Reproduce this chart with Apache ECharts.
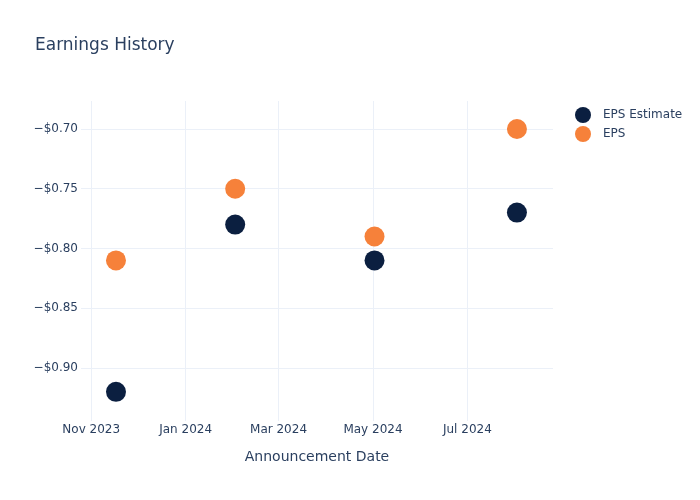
<!DOCTYPE html>
<html>
<head>
<meta charset="utf-8">
<script src="https://cdn.jsdelivr.net/npm/echarts@6/dist/echarts.min.js"></script>
<style>html,body{margin:0;padding:0;background:#fff}#c{width:700px;height:500px}</style>
</head>
<body>
<div id="c"></div>
<script>
// Data
const dates = ['2023-11-17', '2024-02-02', '2024-05-02', '2024-08-02'];
const epsEstimate = [-0.92, -0.78, -0.81, -0.77];
const eps = [-0.81, -0.75, -0.79, -0.70];
const xTicks = ['2023-11-01', '2024-01-01', '2024-03-01', '2024-05-01', '2024-07-01'];
const yTicks = [-0.90, -0.85, -0.80, -0.75, -0.70];

const MONTHS = ['Jan','Feb','Mar','Apr','May','Jun','Jul','Aug','Sep','Oct','Nov','Dec'];
function ts(s) { const p = s.split('-').map(Number); return new Date(p[0], p[1] - 1, p[2]).getTime(); }
const DAY = 86400000;
const font = '"DejaVu Sans", sans-serif';
const txt = '#2a3f5f';
const grid = '#ebf0f8';

const chart = echarts.init(document.getElementById('c'), null, { renderer: 'canvas' });
chart.setOption({
  backgroundColor: '#fff',
  animation: false,
  title: {
    text: 'Earnings History', left: 35, top: 37, padding: 0,
    textStyle: { fontFamily: font, fontSize: 17, fontWeight: 'normal', color: txt }
  },
  legend: {
    data: ['EPS Estimate', 'EPS'], orient: 'vertical', left: 575, top: 107, padding: 0,
    icon: 'circle', itemWidth: 16, itemHeight: 16, itemGap: 3,
    textStyle: { fontFamily: font, fontSize: 12, color: txt, padding: [0, 0, 0, 7] }
  },
  grid: { left: 81, right: 147, top: 101, bottom: 79, containLabel: false },
  xAxis: {
    type: 'value',
    min: ts('2023-11-01') - 6.6 * DAY,
    max: ts('2023-11-01') + 298.3 * DAY,
    name: 'Announcement Date', nameLocation: 'middle', nameGap: 29,
    nameTextStyle: { fontFamily: font, fontSize: 14, color: txt },
    axisLine: { show: false },
    axisTick: { show: false, customValues: xTicks.map(ts) },
    axisLabel: {
      customValues: xTicks.map(ts), margin: 3,
      fontFamily: font, fontSize: 12, color: txt,
      formatter: v => { const d = new Date(v); return MONTHS[d.getMonth()] + ' ' + d.getFullYear(); }
    },
    splitLine: { show: true, lineStyle: { color: grid, width: 1 } }
  },
  yAxis: {
    type: 'value',
    min: -0.9444, max: -0.6766,
    axisLine: { show: false },
    axisTick: { show: false, customValues: yTicks },
    axisLabel: {
      customValues: yTicks, margin: 3,
      fontFamily: font, fontSize: 12, color: txt,
      formatter: v => '\u2212$' + Math.abs(v).toFixed(2)
    },
    splitLine: { show: true, lineStyle: { color: grid, width: 1 } }
  },
  series: [
    {
      name: 'EPS Estimate', type: 'scatter', symbolSize: 20,
      itemStyle: { color: '#0b1f40', opacity: 1 },
      data: dates.map((d, i) => [ts(d), epsEstimate[i]])
    },
    {
      name: 'EPS', type: 'scatter', symbolSize: 20,
      itemStyle: { color: '#f6813a', opacity: 1 },
      data: dates.map((d, i) => [ts(d), eps[i]])
    }
  ]
});
</script>
</body>
</html>
